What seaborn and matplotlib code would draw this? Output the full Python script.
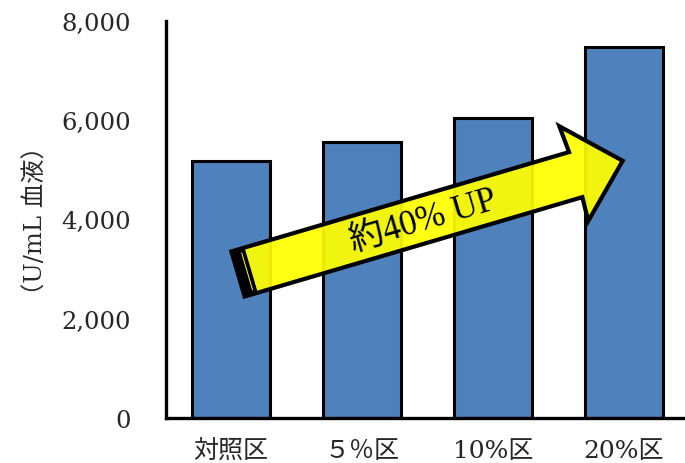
import numpy as np
import pandas as pd
import matplotlib
matplotlib.use("Agg")
import matplotlib.pyplot as plt
import seaborn as sns
from matplotlib.patches import Polygon
from matplotlib.transforms import IdentityTransform
from matplotlib.ticker import FuncFormatter, MultipleLocator, FixedLocator

# ---- data ----
categories = ["対照区", "５％区", "10%区", "20%区"]
values = [5170, 5550, 6040, 7460]
y_ticks = [0, 2000, 4000, 6000, 8000]
y_label = "（U/mL 血液）"
arrow_text = "約40% UP"

sns.set_theme(style="white")
plt.rcParams['font.family'] = ['DejaVu Serif', 'Noto Sans CJK JP', 'DejaVu Sans']

df = pd.DataFrame({"cat": categories, "val": values})

W, H = 685, 464
fig = plt.figure(figsize=(W / 100, H / 100), dpi=100)
ax = fig.add_axes([165.5 / W, (H - 419) / H, (689.5 - 165.5) / W, (419 - 21.5) / H])

sns.barplot(data=df, x="cat", y="val", color="#4F81BD", saturation=1,
            edgecolor="black", linewidth=2.2, width=0.6, ax=ax)

ax.set_xlim(-0.5, 3.5)
ax.set_ylim(0, 8000)
ax.set_xlabel("")
ax.set_ylabel(y_label, fontsize=17.5, labelpad=10)

for s in ["top", "right"]:
    ax.spines[s].set_visible(False)
for s in ["left", "bottom"]:
    ax.spines[s].set_linewidth(2.4)
    ax.spines[s].set_color("black")

ax.set_yticks(y_ticks)
ax.yaxis.set_major_formatter(FuncFormatter(lambda v, p: f"{int(v):,}"))
ax.yaxis.set_minor_locator(MultipleLocator(1000))
ax.tick_params(axis="y", which="both", direction="in", length=5, width=2, color="black",
               labelsize=17.5, pad=25)
ax.yaxis.set_tick_params(which="major", pad=25)

ax.tick_params(axis="x", which="major", length=0, labelsize=18, pad=15)
ax.xaxis.set_minor_locator(FixedLocator([0.5, 1.5, 2.5]))
ax.tick_params(axis="x", which="minor", direction="in", length=6, width=2, color="black")

# ---- arrow annotation (pixel geometry along arrow direction) ----
ox, oy = 238.0, 275.0
ang = np.deg2rad(16.4)
u = np.array([np.cos(ang), -np.sin(ang)])
n = np.array([np.sin(ang), np.cos(ang)])

def pt(a, b):
    p = np.array([ox, oy]) + a * u + b * n
    return (p[0], H - p[1])

hw = 23.5
shaft = [pt(0, -hw), pt(352, -hw), pt(350, -51), pt(401, 0), pt(351, 48),
         pt(352, hw), pt(0, hw)]
arrow = Polygon(shaft, closed=True, facecolor="#FFFF00", alpha=0.92,
                edgecolor="none", transform=IdentityTransform(), zorder=5)
fig.patches.append(arrow)
outline = Polygon(shaft, closed=True, facecolor="none", edgecolor="black",
                  linewidth=3, joinstyle="miter", transform=IdentityTransform(), zorder=6)
fig.patches.append(outline)
band = Polygon([pt(0, -hw), pt(13, -hw), pt(13, hw), pt(0, hw)], closed=True,
               facecolor="black", edgecolor="black", linewidth=1,
               transform=IdentityTransform(), zorder=7)
fig.patches.append(band)
line = Polygon([pt(9, -hw + 4), pt(10, -hw + 4), pt(10, hw - 4), pt(9, hw - 4)], closed=True,
               facecolor="#FFFF00", edgecolor="none",
               transform=IdentityTransform(), zorder=8)
fig.patches.append(line)

cx, cy = pt(193, 1)
fig.text(cx / W, cy / H, arrow_text, rotation=16.4, rotation_mode="anchor",
         ha="center", va="center", fontsize=25, color="black", zorder=9,
         family=['Liberation Serif', 'Noto Sans CJK JP'])

fig.savefig("out.png", dpi=100)
